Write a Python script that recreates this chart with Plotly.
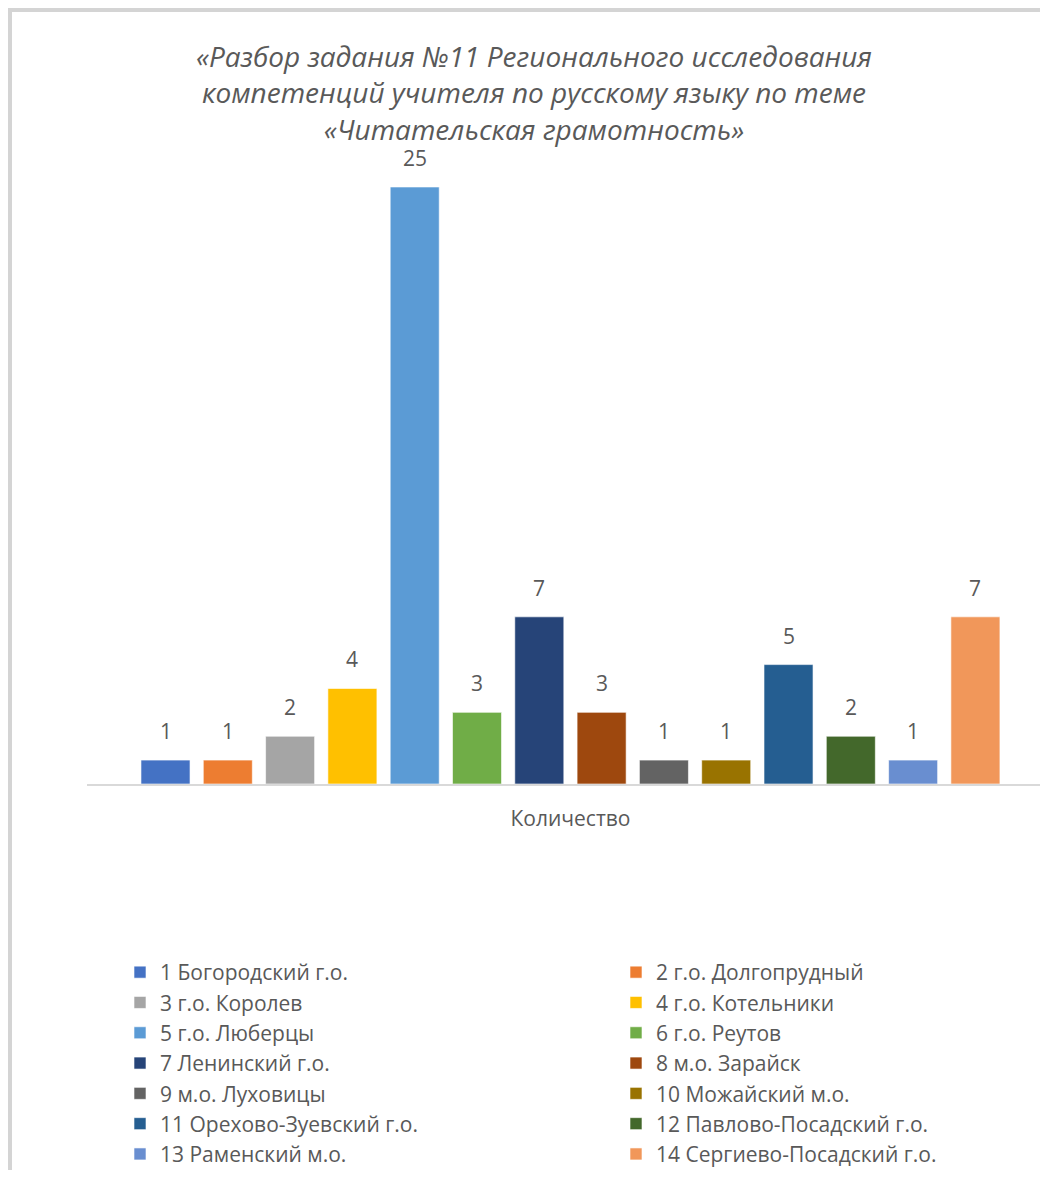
import plotly.graph_objects as go

# ---- data ----
series_names = [
    "1 Богородский г.о.",
    "2 г.о. Долгопрудный",
    "3 г.о. Королев",
    "4 г.о. Котельники",
    "5 г.о. Люберцы",
    "6 г.о. Реутов",
    "7 Ленинский г.о.",
    "8 м.о. Зарайск",
    "9 м.о. Луховицы",
    "10 Можайский м.о.",
    "11 Орехово-Зуевский г.о.",
    "12 Павлово-Посадский г.о.",
    "13 Раменский м.о.",
    "14 Сергиево-Посадский г.о.",
]
series_values = [1, 1, 2, 4, 25, 3, 7, 3, 1, 1, 5, 2, 1, 7]
series_colors = [
    "#4472C4", "#ED7D31", "#A5A5A5", "#FFC000", "#5B9BD5", "#70AD47", "#264478",
    "#9E480E", "#636363", "#997300", "#255E91", "#43682B", "#698ED0", "#F1975A",
]
category_label = "Количество"
title_text = ("«Разбор задания №11 Регионального исследования<br>"
              "компетенций учителя по русскому языку по теме<br>"
              "«Читательская грамотность»")

# ---- layout geometry (page body has an 8px margin) ----
OFF = 8
W, H = 1048 - OFF, 1178 - 2 * OFF
ML, MR = 87 - OFF, 0
MT = 160 - OFF
MB = H - (784 - OFF)
PLOT_W = W - ML - MR
PLOT_H = H - MT - MB
TEXT = "#595959"
FONT = "'Open Sans', Lato, sans-serif"

positions = list(range(1, len(series_values) + 1))
y_top = 26.13
x_range = [-0.26, 15.165]


def px_x(p):
    return (p - ML) / PLOT_W


def px_y(p):
    return (H - MB - p) / PLOT_H


fig = go.Figure()
for pos, name, val, col in zip(positions, series_names, series_values, series_colors):
    fig.add_trace(go.Bar(
        x=[pos], y=[val], name=name, width=0.787,
        marker=dict(color=col, line=dict(color="white", width=0.6)),
        hoverinfo="name+y",
        legend="legend" if pos % 2 == 1 else "legend2",
    ))

annotations = []
for pos, val in zip(positions, series_values):
    annotations.append(dict(
        x=pos, y=val, xref="x", yref="y", text=str(val), showarrow=False,
        yanchor="bottom", yshift=13, font=dict(family=FONT, size=21, color=TEXT),
    ))

shapes = [
    dict(type="line", xref="paper", yref="paper", layer="above",
         x0=px_x(0), x1=px_x(W + 2), y0=px_y(2), y1=px_y(2),
         line=dict(color="#D4D4D4", width=4)),
    dict(type="line", xref="paper", yref="paper", layer="above",
         x0=px_x(2), x1=px_x(2), y0=px_y(0), y1=px_y(H + 2),
         line=dict(color="#D4D4D4", width=4)),
]

legend_common = dict(
    orientation="v", xref="container", yref="container",
    xanchor="left", y=1 - (952 - OFF) / H, yanchor="top",
    font=dict(family=FONT, size=21, color=TEXT),
    traceorder="normal", itemclick=False, itemdoubleclick=False,
    bgcolor="rgba(0,0,0,0)",
)

fig.update_layout(
    width=W, height=H,
    margin=dict(l=ML, r=MR, t=MT, b=MB, pad=0, autoexpand=False),
    paper_bgcolor="white", plot_bgcolor="white",
    barmode="overlay",
    title=dict(
        text=title_text, x=(534 - OFF) / W, xanchor="center", xref="container",
        y=1 - (67 - OFF) / H, yanchor="top", yref="container",
        font=dict(family=FONT, size=28, color=TEXT, style="italic"),
    ),
    xaxis=dict(
        range=x_range, showgrid=False, zeroline=False,
        showline=True, linecolor="#D9D9D9", linewidth=2,
        tickvals=[sum(positions) / len(positions)], ticktext=[category_label],
        ticks="", ticklabelstandoff=15,
        tickfont=dict(family=FONT, size=21, color=TEXT),
    ),
    yaxis=dict(range=[0, y_top], visible=False, showgrid=False, zeroline=False),
    showlegend=True,
    legend=dict(legend_common, x=(120 - OFF) / W),
    legend2=dict(legend_common, x=(616 - OFF) / W),
    annotations=annotations,
    shapes=shapes,
)

fig.write_html("out.html")
